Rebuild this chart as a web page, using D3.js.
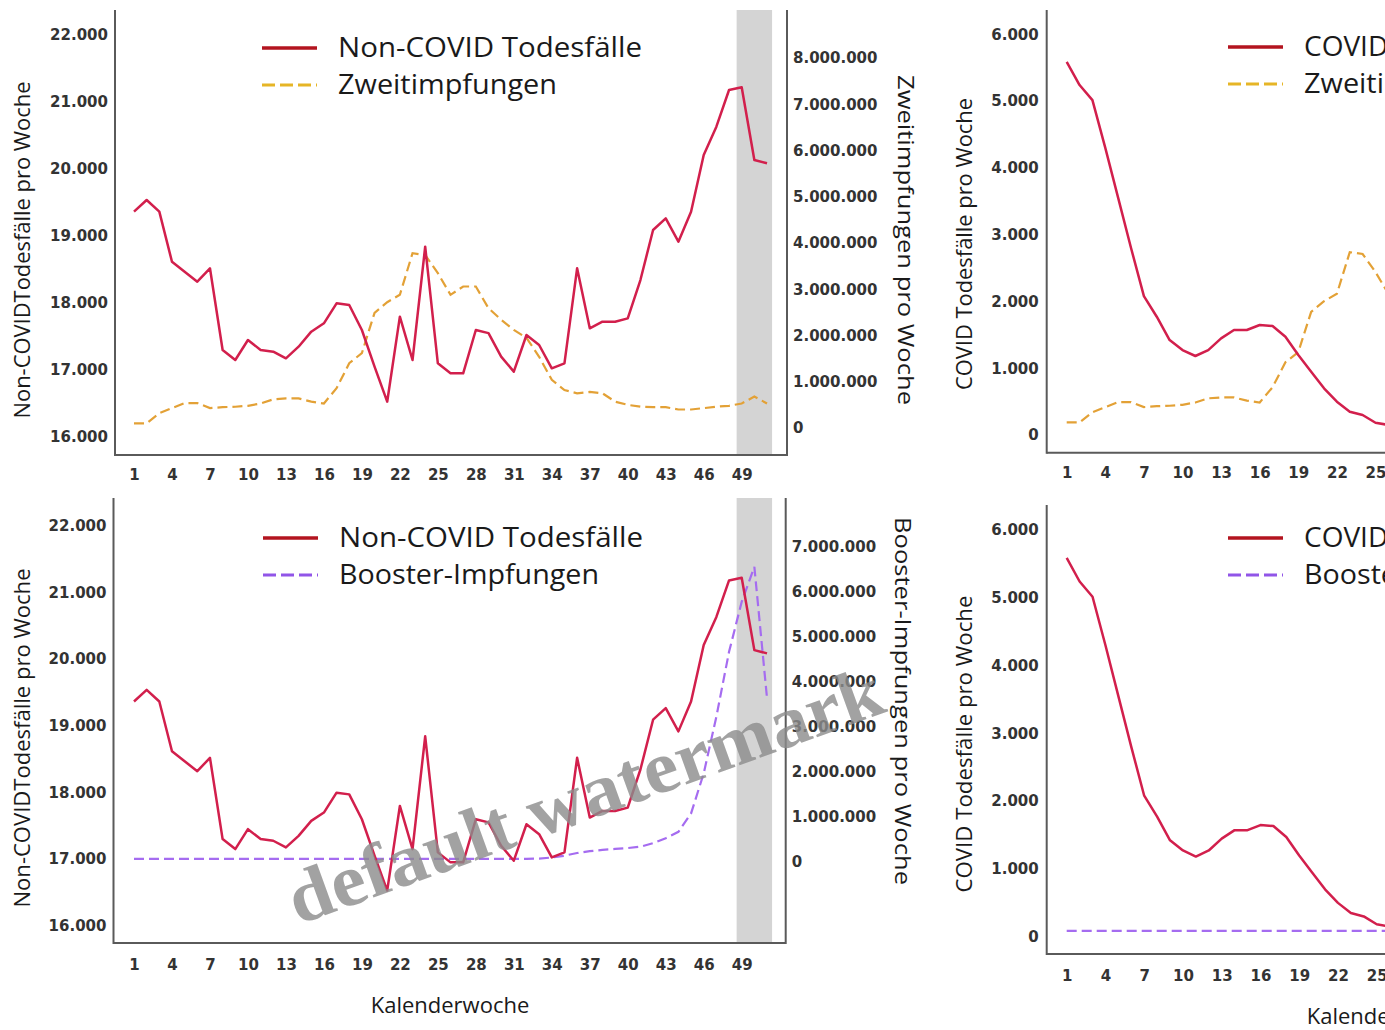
<!DOCTYPE html>
<html>
<head>
<meta charset="utf-8">
<script src="https://cdn.jsdelivr.net/npm/d3@7"></script>
<style>
  body { margin: 0; background: #fff; }
  svg { display: block; }
  .tick text { font-family: "DejaVu Sans", sans-serif; font-weight: bold; font-size: 15px; fill: #333; }
</style>
</head>
<body>
<svg id="graph" width="1385" height="1030"></svg>
<script>
// Kalenderwochen 1..51
const weeks = d3.range(1, 52);
const xTicks = d3.range(1, 50, 3);
const xTicksCut = d3.range(1, 26, 3); // right panels are cut off at the page edge

const nonCovid = [19363, 19537, 19363, 18616, 18467, 18318, 18518, 17299, 17149, 17448,
                  17299, 17274, 17174, 17348, 17572, 17697, 17995, 17970, 17597, 17050,
                  16527, 17796, 17149, 18840, 17100, 16950, 16950, 17597, 17550, 17199,
                  16975, 17522, 17373, 17025, 17100, 18518, 17622, 17721, 17721, 17771,
                  18343, 19090, 19264, 18915, 19363, 20209, 20632, 21179, 21219, 20134, 20085];

const zweit = [100000, 100000, 320000, 430000, 540000, 540000, 430000, 450000, 460000, 480000,
               530000, 620000, 640000, 640000, 570000, 530000, 860000, 1400000, 1620000, 2490000,
               2720000, 2880000, 3780000, 3740000, 3350000, 2880000, 3060000, 3060000, 2590000, 2340000,
               2120000, 1950000, 1540000, 1040000, 820000, 750000, 780000, 750000, 570000, 500000,
               460000, 450000, 450000, 400000, 400000, 430000, 460000, 480000, 530000, 680000, 530000];

const booster = [70000, 70000, 70000, 70000, 70000, 70000, 70000, 70000, 70000, 70000,
                 70000, 70000, 70000, 70000, 70000, 70000, 70000, 70000, 70000, 70000,
                 70000, 70000, 70000, 70000, 70000, 70000, 70000, 70000, 70000, 70000,
                 70000, 70000, 75000, 100000, 140000, 200000, 240000, 270000, 290000, 310000,
                 340000, 420000, 530000, 670000, 1080000, 1970000, 3230000, 4670000, 5780000, 6560000, 3640000];

// only weeks 1..26 are visible in the right-hand panels
const covid = [5588, 5240, 5015, 4300, 3550, 2800, 2080, 1771, 1422, 1272,
               1183, 1272, 1447, 1572, 1572, 1647, 1632, 1472, 1198, 948,
               699, 499, 349, 299, 184, 150];

const nonCovidTicks = [16000, 17000, 18000, 19000, 20000, 21000, 22000];
const covidTicks = [0, 1000, 2000, 3000, 4000, 5000, 6000];
const zweitTicks = [0, 1e6, 2e6, 3e6, 4e6, 5e6, 6e6, 7e6, 8e6];
const boosterTicks = [0, 1e6, 2e6, 3e6, 4e6, 5e6, 6e6, 7e6];
const band = [48.6, 51.4];

const RED = "#d21f4c", RED_LEG = "#b3141f";
const ORANGE = "#e3a136", ORANGE_LEG = "#e6b526";
const PURPLE = "#a56cf0", PURPLE_LEG = "#9155e8";

const de = d3.formatLocale({ decimal: ",", thousands: ".", grouping: [3], currency: ["", "€"] });
const fmt = de.format(",");

const svg = d3.select("#graph");

function panel(p) {
    const g = svg.append("g");
    const x = d3.scaleLinear().domain(p.xDom).range(p.xRange);
    const yL = d3.scaleLinear().domain(p.yLDom).range(p.yLRange);
    const yR = d3.scaleLinear().domain(p.yRDom).range(p.yRRange);

    if (p.band) {
        g.append("rect")
            .attr("x", x(band[0]))
            .attr("y", p.top)
            .attr("width", x(band[1]) - x(band[0]))
            .attr("height", p.bottom - p.top)
            .style("fill", "#d4d4d4");
    }

    // axes: labels only, no tick marks
    g.append("g")
        .attr("transform", "translate(" + p.left + ",0)")
        .call(d3.axisLeft(yL).tickValues(p.yLTicks).tickFormat(fmt).tickSize(0).tickPadding(p.padL))
        .call(function(s) { s.select(".domain").remove(); });

    g.append("g")
        .attr("transform", "translate(0," + p.bottom + ")")
        .call(d3.axisBottom(x).tickValues(p.xTicks).tickSize(0).tickPadding(p.padB))
        .call(function(s) { s.select(".domain").remove(); });

    if (p.showRight) {
        g.append("g")
            .attr("transform", "translate(" + p.right + ",0)")
            .call(d3.axisRight(yR).tickValues(p.yRTicks).tickFormat(fmt).tickSize(0).tickPadding(6))
            .call(function(s) { s.select(".domain").remove(); });
    }

    const axisStyle = function(sel) { sel.style("stroke", "#5a5a5a").style("stroke-width", 2); };
    g.append("line").attr("x1", p.left).attr("x2", p.left).attr("y1", p.top).attr("y2", p.bottom + 1).call(axisStyle);
    g.append("line").attr("x1", p.left).attr("x2", p.right).attr("y1", p.bottom).attr("y2", p.bottom).call(axisStyle);
    g.append("line").attr("x1", p.right).attr("x2", p.right).attr("y1", p.top).attr("y2", p.bottom + 1).call(axisStyle);

    // series
    g.append("path")
        .datum(p.dashed)
        .attr("d", d3.line()
            .x(function(d, i) { return x(weeks[i]); })
            .y(function(d) { return yR(d); }))
        .style("fill", "none")
        .style("stroke", p.dashColor)
        .style("stroke-width", 2.2)
        .style("stroke-dasharray", "10,5");

    g.append("path")
        .datum(p.solid)
        .attr("d", d3.line()
            .x(function(d, i) { return x(weeks[i]); })
            .y(function(d) { return yL(d); }))
        .style("fill", "none")
        .style("stroke", RED)
        .style("stroke-width", 2.5)
        .style("stroke-linejoin", "round");

    // legend
    const lx = p.legX;
    g.append("line")
        .attr("x1", lx).attr("x2", lx + 55)
        .attr("y1", p.legY).attr("y2", p.legY)
        .style("stroke", RED_LEG).style("stroke-width", 3.5);
    g.append("line")
        .attr("x1", lx).attr("x2", lx + 55)
        .attr("y1", p.legY + 37).attr("y2", p.legY + 37)
        .style("stroke", p.dashLegColor).style("stroke-width", 3)
        .style("stroke-dasharray", "13,5");
    g.append("text")
        .attr("x", lx + 76).attr("y", p.legY + 9)
        .attr("textLength", p.leg1Len).attr("lengthAdjust", "spacingAndGlyphs")
        .style("font-family", "'Open Sans', sans-serif").style("font-size", "28px").style("fill", "#1a1a1a")
        .text(p.leg1);
    g.append("text")
        .attr("x", lx + 76).attr("y", p.legY + 46)
        .attr("textLength", p.leg2Len).attr("lengthAdjust", "spacingAndGlyphs")
        .style("font-family", "'Open Sans', sans-serif").style("font-size", "28px").style("fill", "#1a1a1a")
        .text(p.leg2);

    // axis titles
    g.append("text")
        .attr("transform", "translate(" + p.titleLX + "," + p.titleLY + ") rotate(-90)")
        .attr("text-anchor", "middle")
        .attr("dy", "0.35em")
        .attr("textLength", p.titleLLen).attr("lengthAdjust", "spacingAndGlyphs")
        .style("font-family", "'Open Sans', sans-serif").style("font-size", "22px").style("fill", "#1a1a1a")
        .text(p.titleL);

    if (p.showRight) {
        g.append("text")
            .attr("transform", "translate(" + p.titleRX + "," + p.titleRY + ") rotate(90)")
            .attr("text-anchor", "middle")
            .attr("dy", "0.35em")
            .attr("textLength", p.titleRLen).attr("lengthAdjust", "spacingAndGlyphs")
            .style("font-family", "'Open Sans', sans-serif").style("font-size", "22px").style("fill", "#1a1a1a")
            .text(p.titleR);
    }

    if (p.xTitle) {
        g.append("text")
            .attr("x", p.xTitleX).attr("y", p.xTitleY)
            .attr("text-anchor", "middle")
            .style("font-family", "'Open Sans', sans-serif").style("font-size", "22px").style("fill", "#1a1a1a")
            .text(p.xTitle);
    }
}

// top left
panel({
    left: 115, right: 787, top: 10, bottom: 455,
    xDom: [1, 49], xRange: [134, 741.7], xTicks: xTicks,
    yLDom: [16000, 22000], yLRange: [437, 35], yLTicks: nonCovidTicks,
    yRDom: [0, 8e6], yRRange: [428, 58], yRTicks: zweitTicks,
    padL: 7, padB: 14, showRight: true, band: true,
    solid: nonCovid, dashed: zweit, dashColor: ORANGE, dashLegColor: ORANGE_LEG,
    legX: 262, legY: 48, leg1: "Non-COVID Todesfälle", leg1Len: 304, leg2: "Zweitimpfungen", leg2Len: 219,
    titleL: "Non-COVIDTodesfälle pro Woche", titleLX: 22, titleLY: 250, titleLLen: 337,
    titleR: "Zweitimpfungen pro Woche", titleRX: 906, titleRY: 240, titleRLen: 330
});

// bottom left
panel({
    left: 113.5, right: 785.7, top: 498, bottom: 943,
    xDom: [1, 49], xRange: [134, 741.7], xTicks: xTicks,
    yLDom: [16000, 22000], yLRange: [925.7, 525.7], yLTicks: nonCovidTicks,
    yRDom: [0, 7e6], yRRange: [862, 547], yRTicks: boosterTicks,
    padL: 7, padB: 16, showRight: true, band: true,
    solid: nonCovid, dashed: booster, dashColor: PURPLE, dashLegColor: PURPLE_LEG,
    legX: 263, legY: 538, leg1: "Non-COVID Todesfälle", leg1Len: 304, leg2: "Booster-Impfungen", leg2Len: 260,
    titleL: "Non-COVIDTodesfälle pro Woche", titleLX: 22, titleLY: 738, titleLLen: 339,
    titleR: "Booster-Impfungen pro Woche", titleRX: 903, titleRY: 701, titleRLen: 368,
    xTitle: "Kalenderwoche", xTitleX: 450, xTitleY: 1013
});

// top right (cut off at the page edge)
panel({
    left: 1046.7, right: 1730, top: 10, bottom: 452.7,
    xDom: [1, 25], xRange: [1066.7, 1375.5], xTicks: xTicksCut,
    yLDom: [0, 6000], yLRange: [435, 34.3], yLTicks: covidTicks,
    yRDom: [0, 8e6], yRRange: [427, 57], yRTicks: zweitTicks,
    padL: 8, padB: 15, showRight: false, band: false,
    solid: covid, dashed: zweit, dashColor: ORANGE, dashLegColor: ORANGE_LEG,
    legX: 1228, legY: 47, leg1: "COVID Todesfälle", leg1Len: null, leg2: "Zweitimpfungen", leg2Len: 219,
    titleL: "COVID Todesfälle pro Woche", titleLX: 964, titleLY: 244, titleLLen: 292
});

// bottom right (cut off at the page edge)
panel({
    left: 1046.7, right: 1730, top: 505, bottom: 954,
    xDom: [1, 25], xRange: [1066.7, 1376.7], xTicks: xTicksCut,
    yLDom: [0, 6000], yLRange: [936.7, 530], yLTicks: covidTicks,
    yRDom: [0, 7e6], yRRange: [934, 619], yRTicks: boosterTicks,
    padL: 8, padB: 16, showRight: false, band: false,
    solid: covid, dashed: booster, dashColor: PURPLE, dashLegColor: PURPLE_LEG,
    legX: 1228, legY: 538, leg1: "COVID Todesfälle", leg1Len: null, leg2: "Booster-Impfungen", leg2Len: 260,
    titleL: "COVID Todesfälle pro Woche", titleLX: 964, titleLY: 744, titleLLen: 297,
    xTitle: "Kalenderwoche", xTitleX: 1386, xTitleY: 1024
});

// watermark
svg.append("text")
    .attr("transform", "translate(298,925) rotate(-19.9)")
    .attr("textLength", 628).attr("lengthAdjust", "spacingAndGlyphs")
    .style("font-family", "'Liberation Serif', serif").style("font-weight", "bold")
    .style("font-size", "74px").style("fill", "#8c8c8c").style("opacity", 0.8)
    .text("default watermark");
</script>
</body>
</html>
